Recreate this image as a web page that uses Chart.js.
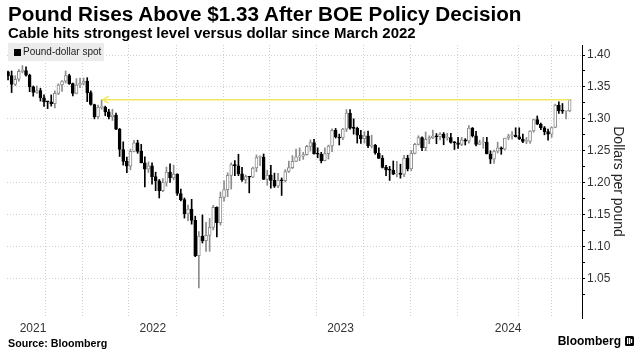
<!DOCTYPE html>
<html>
<head>
<meta charset="utf-8">
<script src="https://cdn.jsdelivr.net/npm/chart.js@4.4.1/dist/chart.umd.min.js"></script>
<style>
  body { margin: 0; background: #fff; font-family: "Liberation Sans", Arial, sans-serif; }
  #wrap { position: relative; width: 644px; height: 364px; overflow: hidden; }
  #chart { position: absolute; left: 0; top: 0; }
  .title { position: absolute; left: 8px; top: 4px; font-size: 20.7px; line-height: 1; font-weight: bold; color: #000; white-space: nowrap; }
  .subtitle { position: absolute; left: 8px; top: 25px; font-size: 15px; line-height: 1; font-weight: bold; color: #000; white-space: nowrap; }
  .legend { position: absolute; left: 8px; top: 43px; width: 96px; height: 18px; background: #ececec; font-size: 10px; color: #222; line-height: 18px; white-space: nowrap; }
  .legend i { display: inline-block; width: 7px; height: 7px; background: #000; margin: 0 2px 0 6px; vertical-align: -0.5px; }
  .source { position: absolute; left: 8px; top: 338px; font-size: 10.7px; line-height: 1; font-weight: bold; color: #000; }
  .logo { position: absolute; right: 10px; top: 335px; font-size: 12px; line-height: 1; font-weight: bold; color: #000; white-space: nowrap; }
  .logo svg { vertical-align: -1px; margin-left: 4px; }
</style>
</head>
<body>
<div id="wrap">
  <canvas id="chart" width="644" height="364"></canvas>
  <div class="title">Pound Rises Above $1.33 After BOE Policy Decision</div>
  <div class="subtitle">Cable hits strongest level versus dollar since March 2022</div>
  <div class="legend"><i></i>Pound-dollar spot</div>
  <div class="source">Source: Bloomberg</div>
  <div class="logo">Bloomberg<svg width="9" height="10" viewBox="0 0 9 10"><rect width="9" height="10" rx="1.5" fill="#000"/><rect x="2" y="2" width="1.3" height="6" fill="#fff"/><rect x="4" y="2" width="1.3" height="6" fill="#fff"/><rect x="6" y="3" width="1.2" height="4" fill="#fff"/></svg></div>
</div>
<script>
// weekly candles, GBP/USD (week ending friday)
const weeks = [
  "2021-09-24","2021-10-01","2021-10-08","2021-10-15","2021-10-22","2021-10-29",
  "2021-11-05","2021-11-12","2021-11-19","2021-11-26",
  "2021-12-03","2021-12-10","2021-12-17","2021-12-24","2021-12-31",
  "2022-01-07","2022-01-14","2022-01-21","2022-01-28",
  "2022-02-04","2022-02-11","2022-02-18","2022-02-25",
  "2022-03-04","2022-03-11","2022-03-18","2022-03-25",
  "2022-04-01","2022-04-08","2022-04-15","2022-04-22","2022-04-29",
  "2022-05-06","2022-05-13","2022-05-20","2022-05-27",
  "2022-06-03","2022-06-10","2022-06-17","2022-06-24",
  "2022-07-01","2022-07-08","2022-07-15","2022-07-22","2022-07-29",
  "2022-08-05","2022-08-12","2022-08-19","2022-08-26",
  "2022-09-02","2022-09-09","2022-09-16","2022-09-23","2022-09-30",
  "2022-10-07","2022-10-14","2022-10-21","2022-10-28",
  "2022-11-04","2022-11-11","2022-11-18","2022-11-25",
  "2022-12-02","2022-12-09","2022-12-16","2022-12-23","2022-12-30",
  "2023-01-06","2023-01-13","2023-01-20","2023-01-27",
  "2023-02-03","2023-02-10","2023-02-17","2023-02-24",
  "2023-03-03","2023-03-10","2023-03-17","2023-03-24","2023-03-31",
  "2023-04-07","2023-04-14","2023-04-21","2023-04-28",
  "2023-05-05","2023-05-12","2023-05-19","2023-05-26",
  "2023-06-02","2023-06-09","2023-06-16","2023-06-23","2023-06-30",
  "2023-07-07","2023-07-14","2023-07-21","2023-07-28",
  "2023-08-04","2023-08-11","2023-08-18","2023-08-25",
  "2023-09-01","2023-09-08","2023-09-15","2023-09-22","2023-09-29",
  "2023-10-06","2023-10-13","2023-10-20","2023-10-27",
  "2023-11-03","2023-11-10","2023-11-17","2023-11-24",
  "2023-12-01","2023-12-08","2023-12-15","2023-12-22","2023-12-29",
  "2024-01-05","2024-01-12","2024-01-19","2024-01-26",
  "2024-02-02","2024-02-09","2024-02-16","2024-02-23",
  "2024-03-01","2024-03-08","2024-03-15","2024-03-22","2024-03-29",
  "2024-04-05","2024-04-12","2024-04-19","2024-04-26",
  "2024-05-03","2024-05-10","2024-05-17","2024-05-24","2024-05-31",
  "2024-06-07","2024-06-14","2024-06-21","2024-06-28",
  "2024-07-05","2024-07-12","2024-07-19","2024-07-26",
  "2024-08-02","2024-08-09","2024-08-16","2024-08-23","2024-08-30",
  "2024-09-06","2024-09-13","2024-09-20"
]

const open = [
  1.3738,1.3677,1.3541,1.3620,1.3745,1.3755, 1.3683,1.3500,1.3416,1.3443, 1.3330,1.3270,1.3265,1.3236,1.3400,
  1.3530,1.3590,1.3676,1.3553, 1.3400,1.3530,1.3560,1.3590, 1.3410,1.3225,1.3035,1.3180,
  1.3185,1.3110,1.3035,1.3060,1.2840, 1.2520,1.2335,1.2260,1.2490, 1.2625,1.2490,1.2310,1.2210,
  1.2265,1.2095,1.2030,1.1875,1.2005, 1.2165,1.2075,1.2135,1.1830, 1.1735,1.1510,1.1585,1.1410,1.0855,
  1.1165,1.1090,1.1175,1.1300, 1.1615,1.1375,1.1770,1.1890, 1.2115,1.2285,1.2265,1.2140,1.2045,
  1.2095,1.2085,1.2230,1.2395, 1.2400,1.2050,1.2120,1.2035, 1.1945,1.2040,1.2030,1.2175,1.2235,
  1.2335,1.2405,1.2415,1.2440, 1.2570,1.2630,1.2455,1.2445, 1.2345,1.2455,1.2575,1.2820,1.2715,
  1.2700,1.2840,1.3090,1.2855, 1.2850,1.2745,1.2690,1.2735, 1.2575,1.2585,1.2465,1.2380,1.2240,
  1.2200,1.2195,1.2135,1.2150, 1.2130,1.2380,1.2215,1.2460, 1.2600,1.2705,1.2550,1.2680,1.2705,
  1.2730,1.2720,1.2760,1.2700, 1.2705,1.2630,1.2625,1.2600, 1.2670,1.2650,1.2855,1.2735,1.2600,
  1.2625,1.2635,1.2450,1.2370, 1.2495,1.2545,1.2525,1.2700,1.2735, 1.2740,1.2720,1.2685,1.2645,
  1.2648,1.2810,1.2990,1.2915, 1.2860,1.2800,1.2760,1.2865,1.3215, 1.3125,1.3120,1.3125
]
const high = [
  1.3750,1.3750,1.3675,1.3775,1.3834,1.3815, 1.3700,1.3515,1.3515,1.3480, 1.3375,1.3275,1.3375,1.3440,1.3550,
  1.3600,1.3750,1.3700,1.3560, 1.3630,1.3640,1.3640,1.3645, 1.3440,1.3230,1.3215,1.3300,
  1.3200,1.3150,1.3150,1.3090,1.2850, 1.2640,1.2400,1.2525,1.2665, 1.2665,1.2600,1.2405,1.2325,
  1.2310,1.2165,1.2050,1.2065,1.2245, 1.2295,1.2275,1.2140,1.1900, 1.1760,1.1650,1.1740,1.1475,1.1235,
  1.1495,1.1380,1.1440,1.1645, 1.1620,1.1855,1.2030,1.2155, 1.2310,1.2345,1.2445,1.2240,1.2120,
  1.2100,1.2245,1.2435,1.2420, 1.2450,1.2195,1.2270,1.2150, 1.2145,1.2075,1.2205,1.2340,1.2425,
  1.2525,1.2545,1.2475,1.2585, 1.2670,1.2680,1.2545,1.2475, 1.2545,1.2590,1.2845,1.2850,1.2760,
  1.2850,1.3145,1.3145,1.3000, 1.2870,1.2820,1.2800,1.2810, 1.2745,1.2600,1.2545,1.2425,1.2270,
  1.2255,1.2340,1.2335,1.2290, 1.2430,1.2430,1.2505,1.2615, 1.2735,1.2720,1.2795,1.2735,1.2825,
  1.2770,1.2785,1.2785,1.2775, 1.2775,1.2645,1.2710,1.2710, 1.2690,1.2895,1.2865,1.2805,1.2665,
  1.2710,1.2710,1.2500,1.2510, 1.2635,1.2560,1.2700,1.2760,1.2800, 1.2860,1.2860,1.2760,1.2710,
  1.2815,1.2995,1.3045,1.2935, 1.2880,1.2840,1.2875,1.3230,1.3265, 1.3240,1.3135,1.3300
]
const low = [
  1.3610,1.3412,1.3520,1.3590,1.3720,1.3670, 1.3425,1.3355,1.3400,1.3278, 1.3195,1.3160,1.3200,1.3170,1.3380,
  1.3430,1.3560,1.3540,1.3358, 1.3390,1.3490,1.3530,1.3270, 1.3215,1.3000,1.3000,1.3150,
  1.3050,1.3000,1.2975,1.2830,1.2410, 1.2275,1.2155,1.2200,1.2480, 1.2460,1.2310,1.1935,1.2160,
  1.1975,1.1875,1.1760,1.1860,1.1945, 1.2005,1.2045,1.1800,1.1715, 1.1445,1.1405,1.1350,1.0840,1.0350,
  1.1055,1.0925,1.0925,1.1260, 1.1150,1.1335,1.1710,1.1780, 1.1900,1.2110,1.2110,1.2020,1.1990,
  1.1840,1.2080,1.2170,1.2265, 1.2050,1.1960,1.1915,1.1925, 1.1920,1.1800,1.2010,1.2160,1.2220,
  1.2330,1.2345,1.2365,1.2430, 1.2495,1.2445,1.2390,1.2310, 1.2340,1.2370,1.2485,1.2700,1.2590,
  1.2675,1.2800,1.2840,1.2760, 1.2620,1.2615,1.2620,1.2550, 1.2545,1.2445,1.2380,1.2230,1.2110,
  1.2035,1.2125,1.2090,1.2070, 1.2095,1.2185,1.2190,1.2450, 1.2590,1.2500,1.2500,1.2610,1.2690,
  1.2610,1.2670,1.2595,1.2665, 1.2620,1.2520,1.2535,1.2580, 1.2590,1.2620,1.2715,1.2575,1.2595,
  1.2540,1.2450,1.2300,1.2300, 1.2465,1.2445,1.2510,1.2675,1.2680, 1.2715,1.2675,1.2625,1.2610,
  1.2615,1.2790,1.2910,1.2830, 1.2750,1.2665,1.2710,1.2860,1.3085, 1.3085,1.3000,1.3110
]
const close = [
  1.3677,1.3541,1.3620,1.3745,1.3755,1.3683, 1.3500,1.3416,1.3443,1.3330, 1.3270,1.3265,1.3236,1.3400,1.3530,
  1.3590,1.3676,1.3553,1.3400, 1.3530,1.3560,1.3590,1.3410, 1.3225,1.3035,1.3180,1.3185,
  1.3110,1.3035,1.3060,1.2840,1.2520, 1.2335,1.2260,1.2490,1.2625, 1.2490,1.2310,1.2210,1.2265,
  1.2095,1.2030,1.1875,1.2005,1.2165, 1.2075,1.2135,1.1830,1.1735, 1.1510,1.1585,1.1410,1.0855,1.1165,
  1.1090,1.1175,1.1300,1.1615, 1.1375,1.1770,1.1890,1.2115, 1.2285,1.2265,1.2140,1.2045,1.2095,
  1.2085,1.2230,1.2395,1.2400, 1.2050,1.2120,1.2035,1.1945, 1.2040,1.2030,1.2175,1.2235,1.2335,
  1.2405,1.2415,1.2440,1.2570, 1.2630,1.2455,1.2445,1.2345, 1.2455,1.2575,1.2820,1.2715,1.2700,
  1.2840,1.3090,1.2855,1.2850, 1.2745,1.2690,1.2735,1.2575, 1.2585,1.2465,1.2380,1.2240,1.2200,
  1.2195,1.2135,1.2150,1.2130, 1.2380,1.2215,1.2460,1.2600, 1.2705,1.2550,1.2680,1.2705,1.2730,
  1.2720,1.2760,1.2700,1.2705, 1.2630,1.2625,1.2600,1.2670, 1.2650,1.2855,1.2735,1.2600,1.2625,
  1.2635,1.2450,1.2370,1.2495, 1.2545,1.2525,1.2700,1.2735,1.2740, 1.2720,1.2685,1.2645,1.2648,
  1.2810,1.2990,1.2915,1.2860, 1.2800,1.2760,1.2865,1.3215,1.3125, 1.3120,1.3125,1.3300
]

// axes
const xStart = "2021-09-22"
const xEnd = "2024-10-14"
const gridDates = ["2021-10-01","2022-01-01","2022-04-01","2022-07-01","2022-10-01","2023-01-01",
  "2023-04-01","2023-07-01","2023-10-01","2024-01-01","2024-04-01","2024-07-01","2024-10-01"]
const yearLabels = ["2021","2022","2023","2024"]
const yMajor = [1.05,1.10,1.15,1.20,1.25,1.30,1.35,1.40]
const yMinor = [1.025,1.075,1.125,1.175,1.225,1.275,1.325,1.375]

// yellow marker line
const levelValue = 1.33
const levelFrom = "2022-03-27"
const levelTo = "2024-09-20"

function dayNum(s) {
  return Date.parse(s) / 86400000
}

const isUp = (i) => close[i] >= open[i]
const upColor = "#8c8c8c"

const levelLine = {
  id: "levelLine",
  afterDatasetsDraw(chart) {
    const ctx = chart.ctx
    const x = chart.scales.x
    const y = chart.scales.y
    const x0 = x.getPixelForValue(dayNum(levelFrom))
    const x1 = x.getPixelForValue(dayNum(levelTo))
    const yy = y.getPixelForValue(levelValue)
    ctx.save()
    ctx.strokeStyle = "#f2e75e"
    ctx.lineWidth = 1.5
    ctx.beginPath()
    ctx.moveTo(x0, yy)
    ctx.lineTo(x1, yy)
    ctx.stroke()
    ctx.beginPath()
    ctx.moveTo(x0 + 6, yy - 3.5)
    ctx.lineTo(x0, yy)
    ctx.lineTo(x0 + 6, yy + 3.5)
    ctx.stroke()
    ctx.restore()
  },
}

new Chart(document.getElementById("chart"), {
  type: "bar",
  data: {
    datasets: [
      {
        label: "body",
        data: weeks.map((w, i) => ({ x: dayNum(w), y: [open[i], close[i]] })),
        barThickness: 3,
        minBarLength: 1,
        grouped: false,
        borderSkipped: false,
        borderWidth: 1,
        backgroundColor: (c) => (isUp(c.dataIndex) ? "#ffffff" : "#000000"),
        borderColor: (c) => (isUp(c.dataIndex) ? upColor : "#000000"),
      },
      {
        label: "wick",
        data: weeks.map((w, i) => ({ x: dayNum(w), y: [low[i], high[i]] })),
        barThickness: 1,
        grouped: false,
        borderWidth: 0,
        backgroundColor: (c) => (isUp(c.dataIndex) ? upColor : "#000000"),
      },
    ],
  },
  options: {
    responsive: false,
    animation: false,
    devicePixelRatio: 1,
    events: [],
    layout: { padding: { left: 7, top: 45, right: 0, bottom: 26 } },
    plugins: { legend: { display: false }, tooltip: { enabled: false } },
    scales: {
      x: {
        type: "linear",
        min: dayNum(xStart),
        max: dayNum(xEnd),
        offset: false,
        afterBuildTicks: (scale) => {
          const lo = scale.min
          const hi = scale.max
          const ticks = gridDates.map((d) => ({ value: dayNum(d) }))
          yearLabels.forEach((yr) => {
            const a = Math.max(lo, dayNum(yr + "-01-01"))
            const b = Math.min(hi, dayNum(+yr + 1 + "-01-01"))
            ticks.push({ value: (a + b) / 2, year: yr })
          })
          ticks.sort((p, q) => p.value - q.value)
          scale.ticks = ticks
        },
        afterFit: (scale) => {
          scale.height = 20
        },
        ticks: {
          autoSkip: false,
          maxRotation: 0,
          padding: 3,
          color: "#333",
          font: { family: "'Liberation Sans', Arial", size: 12 },
          callback: (v, i, ticks) => ticks[i].year || "",
        },
        grid: {
          drawTicks: false,
          color: (c) => (c.tick && c.tick.year ? "rgba(0,0,0,0)" : "#cfcfcf"),
        },
        border: { display: false, dash: [1, 2] },
      },
      y: {
        position: "right",
        min: 0.988,
        max: 1.4157,
        afterBuildTicks: (scale) => {
          const ticks = yMajor.map((v) => ({ value: v, major: true }))
            .concat(yMinor.map((v) => ({ value: v, major: false })))
          ticks.sort((p, q) => p.value - q.value)
          scale.ticks = ticks
        },
        afterFit: (scale) => {
          scale.width = 62
        },
        ticks: {
          autoSkip: false,
          padding: 2,
          color: "#333",
          font: { family: "'Liberation Sans', Arial", size: 12 },
          callback: (v, i, ticks) => (ticks[i].major ? v.toFixed(2) : ""),
        },
        grid: {
          color: (c) => (c.tick && c.tick.major ? "#cfcfcf" : "rgba(0,0,0,0)"),
          tickColor: "#000",
          tickLength: 3,
          tickWidth: 1,
        },
        border: { display: true, color: "#000", width: 1, dash: [1, 2] },
        title: {
          display: true,
          text: "Dollars per pound",
          color: "#222",
          font: { family: "'Liberation Sans', Arial", size: 14 },
          padding: { top: 18, bottom: 0 },
        },
      },
    },
  },
  plugins: [levelLine],
})
</script>
</body>
</html>
